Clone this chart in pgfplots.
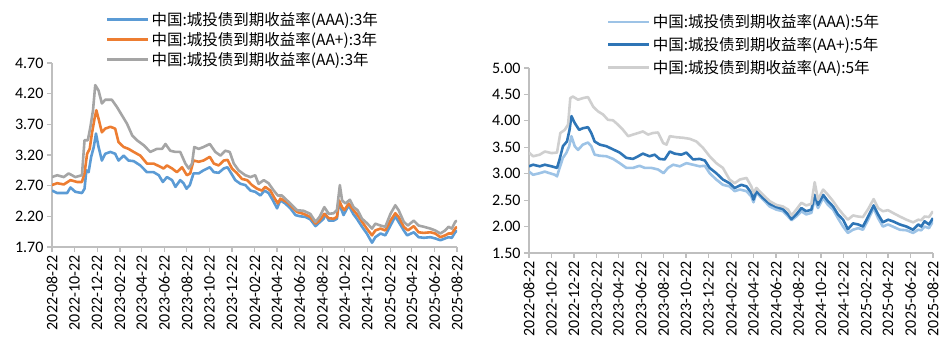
\documentclass[border=0pt]{standalone}
\usepackage{pgfplots}
\pgfplotsset{compat=1.18}
\usepackage{pgfplotstable}
\usepackage{fontspec}
\setmainfont{Carlito}
\newfontfamily\cjk{Noto Sans CJK SC}
\definecolor{axgray}{HTML}{BFBFBF}
\definecolor{cA}{HTML}{5B9BD5}
\definecolor{cB}{HTML}{ED7D31}
\definecolor{cC}{HTML}{A5A5A5}
\definecolor{dA}{HTML}{9DC3E6}
\definecolor{dB}{HTML}{2E75B6}
\definecolor{dC}{HTML}{CFCFCF}

\pgfplotstableread{
d v
0 2.62
14 2.58
41 2.58
50 2.67
63 2.60
81 2.58
88 2.65
93 2.95
99 2.92
106 3.17
113 3.33
119 3.55
126 3.33
135 3.11
144 3.22
158 3.25
171 3.22
180 3.11
194 3.19
207 3.11
221 3.10
239 3.03
257 2.92
275 2.92
289 2.87
300 2.76
311 2.84
325 2.79
334 2.68
347 2.79
356 2.74
364 2.65
373 2.71
383 2.90
397 2.90
410 2.95
427 3.00
438 2.92
451 2.91
465 2.98
475 3.00
484 2.91
496 2.79
510 2.73
523 2.71
537 2.62
550 2.60
564 2.54
575 2.62
586 2.58
598 2.46
609 2.33
618 2.46
631 2.41
645 2.33
659 2.22
672 2.20
686 2.19
699 2.15
713 2.04
722 2.09
735 2.16
740 2.24
749 2.13
762 2.13
771 2.16
776 2.41
782 2.33
789 2.22
803 2.38
815 2.24
825 2.16
839 2.03
852 1.92
866 1.77
875 1.86
889 1.92
902 1.89
916 2.05
929 2.20
938 2.11
952 1.97
961 1.89
979 1.94
992 1.86
1006 1.85
1024 1.86
1037 1.84
1051 1.81
1064 1.84
1073 1.86
1082 1.85
1091 1.94
1096 1.97
}\LA

\pgfplotstableread{
d v
0 2.71
14 2.74
32 2.72
50 2.79
68 2.76
81 2.76
88 2.90
95 3.22
102 3.30
108 3.55
115 3.79
120 3.93
126 3.79
135 3.57
144 3.63
158 3.66
171 3.63
180 3.41
194 3.33
207 3.30
221 3.25
239 3.19
257 3.06
275 3.06
289 3.02
302 2.98
311 3.03
325 2.98
338 2.92
352 3.00
365 2.87
374 2.90
383 3.11
397 3.09
410 3.11
427 3.17
438 3.06
451 3.03
465 3.11
475 3.12
487 2.98
501 2.90
514 2.81
528 2.79
541 2.71
555 2.65
568 2.62
577 2.68
591 2.62
600 2.52
611 2.41
618 2.49
636 2.43
650 2.35
663 2.27
681 2.24
699 2.19
713 2.08
724 2.13
737 2.24
749 2.17
762 2.16
771 2.19
777 2.46
785 2.35
791 2.30
803 2.41
816 2.30
827 2.22
839 2.11
852 2.00
866 1.89
875 1.97
889 2.00
902 1.97
916 2.13
929 2.25
938 2.19
952 2.03
963 1.97
979 2.04
992 1.94
1006 1.93
1024 1.94
1037 1.92
1051 1.86
1064 1.89
1073 1.92
1082 1.92
1091 2.00
1096 2.03
}\LB

\pgfplotstableread{
d v
0 2.84
14 2.87
32 2.84
45 2.90
63 2.84
81 2.87
88 3.44
97 3.44
104 3.66
111 3.93
117 4.34
126 4.25
135 4.04
144 4.10
162 4.10
176 3.98
189 3.85
203 3.71
217 3.52
230 3.44
248 3.36
266 3.25
284 3.30
298 3.30
307 3.38
320 3.27
334 3.25
347 3.25
361 3.06
370 2.98
379 3.06
385 3.33
397 3.30
410 3.33
427 3.38
442 3.25
456 3.19
469 3.27
481 3.25
492 3.06
505 2.95
523 2.87
537 2.84
550 2.87
559 2.73
573 2.79
586 2.74
600 2.62
611 2.54
622 2.54
636 2.46
650 2.38
663 2.30
681 2.29
699 2.24
713 2.11
724 2.19
737 2.35
749 2.24
762 2.25
771 2.30
779 2.71
785 2.46
794 2.41
806 2.47
816 2.35
827 2.30
839 2.16
852 2.09
866 2.00
875 2.08
889 2.05
902 2.03
916 2.24
929 2.38
938 2.30
952 2.11
963 2.05
979 2.13
992 2.05
1006 2.03
1024 2.00
1037 1.97
1051 1.92
1064 1.97
1073 2.03
1082 2.00
1091 2.11
1096 2.13
}\LC

\pgfplotstableread{
d v
0 3.04
11 2.98
29 3.01
43 3.04
56 3.01
70 2.98
76 2.95
83 3.11
92 3.30
101 3.39
109 3.52
115 3.71
124 3.52
133 3.45
146 3.55
160 3.59
169 3.52
178 3.36
192 3.34
210 3.33
228 3.28
246 3.20
264 3.11
282 3.11
300 3.15
314 3.11
332 3.11
350 3.08
365 3.01
377 3.11
391 3.17
409 3.14
427 3.20
445 3.17
463 3.14
477 3.15
490 3.01
508 2.89
526 2.79
544 2.76
558 2.67
572 2.70
590 2.67
603 2.57
609 2.46
617 2.64
635 2.51
653 2.38
671 2.32
689 2.29
703 2.19
712 2.12
725 2.19
739 2.29
752 2.23
766 2.26
775 2.51
784 2.35
798 2.54
811 2.41
825 2.32
838 2.16
852 2.00
865 1.88
879 1.94
893 1.97
906 1.94
920 2.13
935 2.35
947 2.16
960 2.00
974 2.04
987 2.00
1006 1.94
1024 1.93
1042 1.88
1056 1.94
1064 1.93
1073 2.00
1085 1.97
1096 2.10
}\RA

\pgfplotstableread{
d v
0 3.14
11 3.17
29 3.14
43 3.17
61 3.14
76 3.11
83 3.27
92 3.52
103 3.61
110 3.83
115 4.09
124 3.96
136 3.83
146 3.86
160 3.88
169 3.77
178 3.61
192 3.55
210 3.52
228 3.46
246 3.40
264 3.30
282 3.28
296 3.33
309 3.38
327 3.33
341 3.36
354 3.28
368 3.27
382 3.42
395 3.38
413 3.36
427 3.40
445 3.27
463 3.28
477 3.25
490 3.11
508 3.01
526 2.89
544 2.82
558 2.73
576 2.79
590 2.76
603 2.64
609 2.51
617 2.67
635 2.54
653 2.43
671 2.37
689 2.33
703 2.23
712 2.14
725 2.23
739 2.35
752 2.29
766 2.32
775 2.60
784 2.41
798 2.60
811 2.48
825 2.38
838 2.23
852 2.13
865 1.95
879 2.06
893 2.04
906 2.00
920 2.19
935 2.40
947 2.23
960 2.08
974 2.13
987 2.10
1006 2.04
1024 2.00
1042 1.94
1056 2.04
1064 2.00
1073 2.10
1085 2.04
1096 2.16
}\RB

\pgfplotstableread{
d v
0 3.40
11 3.33
29 3.36
43 3.42
61 3.39
76 3.40
85 3.77
97 3.83
106 3.93
112 4.43
119 4.46
133 4.40
146 4.43
160 4.45
174 4.27
187 4.18
201 4.12
214 4.02
228 4.01
241 3.93
255 3.83
269 3.71
282 3.74
296 3.77
309 3.80
323 3.74
336 3.77
350 3.78
364 3.58
373 3.55
382 3.71
400 3.69
418 3.68
436 3.66
454 3.61
472 3.49
490 3.33
508 3.20
526 3.11
544 2.89
558 2.82
572 2.89
590 2.92
603 2.76
609 2.64
617 2.73
635 2.60
653 2.48
671 2.41
689 2.38
703 2.32
712 2.21
725 2.32
739 2.45
752 2.40
766 2.43
775 2.84
784 2.51
798 2.70
811 2.60
825 2.48
838 2.35
852 2.23
865 2.13
879 2.21
893 2.19
906 2.18
920 2.33
935 2.52
947 2.35
960 2.29
974 2.31
987 2.26
1006 2.19
1024 2.13
1042 2.08
1056 2.13
1064 2.12
1073 2.19
1085 2.18
1096 2.29
}\RC

\pgfplotsset{
  base/.style={
    scale only axis, anchor=south west,
    axis lines=left,
    axis line style={draw=axgray, line width=1.3pt, -},
    xmin=0, xmax=1096,
    xtick={0,61,122,184,243,304,365,426,487,549,609,670,731,792,853,915,974,1035,1096},
    xticklabels={2022-08-22,2022-10-22,2022-12-22,2023-02-22,2023-04-22,2023-06-22,2023-08-22,2023-10-22,2023-12-22,2024-02-22,2024-04-22,2024-06-22,2024-08-22,2024-10-22,2024-12-22,2025-02-22,2025-04-22,2025-06-22,2025-08-22},
    x tick label style={rotate=90, anchor=east, font=\fontsize{16}{16}\selectfont},
    yticklabel style={font=\fontsize{16}{16}\selectfont, /pgf/number format/fixed, /pgf/number format/fixed zerofill, /pgf/number format/precision=2, /pgf/number format/assume math mode=true},
    tick align=outside, major tick length=5pt,
    tick style={draw=axgray, line width=1.1pt},
    legend style={draw=none, fill=none, font=\cjk\fontsize{15.5}{18}\selectfont, cells={anchor=west}, anchor=north west, inner sep=0pt},
    legend image code/.code={\draw[##1] (0pt,0pt) -- (41pt,0pt);},
    every axis plot/.append style={line width=2.6pt, line join=round},
  }
}

\begin{document}
\begin{tikzpicture}
\path[use as bounding box] (0,0) rectangle (945pt,355pt);

\begin{axis}[base, at={(52pt,108pt)}, width=405pt, height=184pt,
  ymin=1.7, ymax=4.7, ytick={1.7,2.2,2.7,3.2,3.7,4.2,4.7},
  legend style={at={(axis description cs:0.133,1.289)}, row sep=1.5pt}]
\addplot[cA] table[x=d,y=v] {\LA};
\addlegendentry{中国:城投债到期收益率(AAA):3年}
\addplot[cB] table[x=d,y=v] {\LB};
\addlegendentry{中国:城投债到期收益率(AA+):3年}
\addplot[cC] table[x=d,y=v] {\LC};
\addlegendentry{中国:城投债到期收益率(AA):3年}
\end{axis}

\begin{axis}[base, at={(529pt,102pt)}, width=404pt, height=185pt,
  ymin=1.5, ymax=5, ytick={1.5,2,2.5,3,3.5,4,4.5,5},
  legend style={at={(axis description cs:0.193,1.30)}, row sep=4pt}]
\addplot[dA] table[x=d,y=v] {\RA};
\addlegendentry{中国:城投债到期收益率(AAA):5年}
\addplot[dB] table[x=d,y=v] {\RB};
\addlegendentry{中国:城投债到期收益率(AA+):5年}
\addplot[dC] table[x=d,y=v] {\RC};
\addlegendentry{中国:城投债到期收益率(AA):5年}
\end{axis}
\end{tikzpicture}
\end{document}
